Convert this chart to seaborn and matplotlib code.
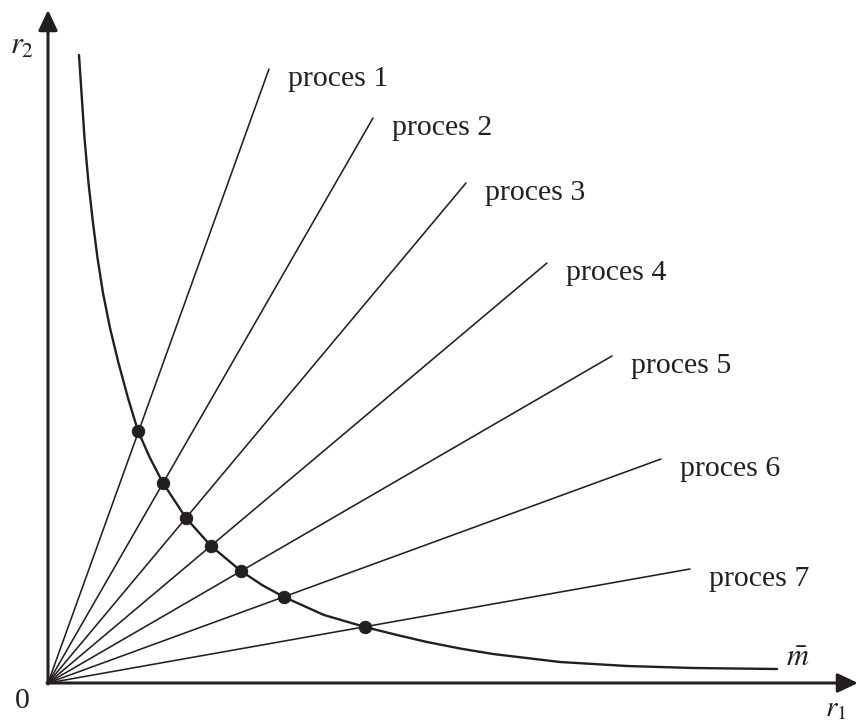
import numpy as np
import pandas as pd
import matplotlib
matplotlib.use("Agg")
import matplotlib.pyplot as plt
import seaborn as sns

# process rays: end points (r1, r2), all starting at the origin
process_names = ["proces 1", "proces 2", "proces 3", "proces 4", "proces 5", "proces 6", "proces 7"]
ray_r1_end = [221, 325, 418, 499, 564, 613, 642]
ray_r2_end = [614, 565, 500, 420, 327, 224, 114]

# isoquant m-bar
curve_r1 = [31, 33.5, 36.5, 40.5, 45, 49.5, 55, 62, 70.5, 80, 90, 102, 115, 138, 163,
            193, 214, 236, 276, 317, 349, 379, 412, 445, 512, 579, 645, 729]
curve_r2 = [628, 590, 545, 500, 460, 425, 390, 355, 320, 285, 252, 225, 200, 165, 137,
            112, 98, 86, 68, 56, 48, 41, 34.5, 29, 21, 17, 15, 14]

# intersection points of rays and isoquant
dot_r1 = [90, 115, 138, 163, 193, 236, 317]
dot_r2 = [252, 200, 165, 137, 112, 86, 56]

INK = "#231f20"

sns.set_theme(style="white")
plt.rcParams["font.family"] = ["Liberation Serif", "DejaVu Serif"]
plt.rcParams["mathtext.fontset"] = "stix"

fig = plt.figure(figsize=(8.58, 7.24), dpi=100)
ax = fig.add_axes([0, 0, 1, 1])
ax.set_xlim(-48, 810)
ax.set_ylim(-41, 683)
ax.axis("off")

for name, ex, ey in zip(process_names, ray_r1_end, ray_r2_end):
    seg = pd.DataFrame({"r1": [0, ex], "r2": [0, ey]})
    sns.lineplot(data=seg, x="r1", y="r2", color=INK, lw=1.15, sort=False,
                 estimator=None, ax=ax)
    ax.text(ex + 19, ey - 10, name, fontsize=21.5, color=INK, ha="left", va="center")

curve = pd.DataFrame({"r1": curve_r1, "r2": curve_r2})
sns.lineplot(data=curve, x="r1", y="r2", color=INK, lw=1.7, sort=False,
             estimator=None, ax=ax)

dots = pd.DataFrame({"r1": dot_r1, "r2": dot_r2})
sns.scatterplot(data=dots, x="r1", y="r2", color=INK, s=80, edgecolor=INK,
                zorder=5, ax=ax)

# axes with arrow heads
arrow = dict(arrowstyle="-|>,head_length=0.95,head_width=0.45", lw=2.2, color=INK,
             shrinkA=0, shrinkB=0, mutation_scale=13)
ax.annotate("", xy=(0, 673), xytext=(0, -1), arrowprops=arrow)
ax.annotate("", xy=(810, 0), xytext=(-1, 0), arrowprops=arrow)

ax.text(-26, -18, "0", fontsize=21.5, color=INK, ha="center", va="center")
ax.text(-26, 637, r"$r_2$", fontsize=22, color=INK, ha="center", va="center")
ax.text(788, -26, r"$r_1$", fontsize=21, color=INK, ha="center", va="center")
ax.text(750, 24, r"$\bar{m}$", fontsize=22, color=INK, ha="center", va="center")

ax.set_xlabel("")
ax.set_ylabel("")
fig.savefig("out.png", dpi=100)
